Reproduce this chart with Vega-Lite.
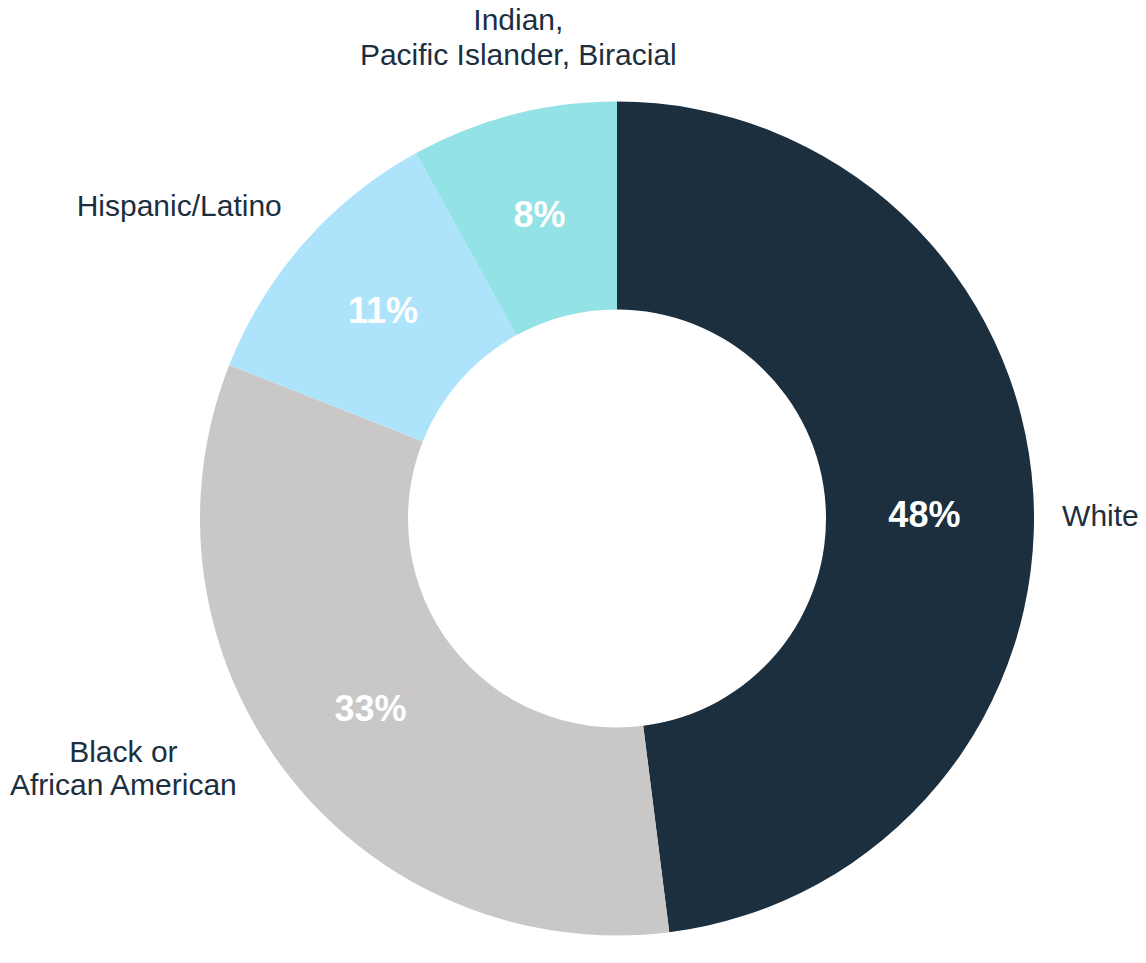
{
  "$schema": "https://vega.github.io/schema/vega-lite/v6.json",
  "description": "Donut chart of enrolment by race / ethnicity.",
  "autosize": "none",
  "padding": {"left": 88, "top": 74, "right": 0, "bottom": 0},
  "width": 1058,
  "height": 889,
  "data": {
    "values": [
      {"group": "White", "label": "White", "share": 48, "pct": "48%", "rank": 1},
      {"group": "Black", "label": "Black or\nAfrican American", "share": 33, "pct": "33%", "rank": 2},
      {"group": "Hispanic", "label": "Hispanic/Latino", "share": 11, "pct": "11%", "rank": 3},
      {"group": "Other", "label": "Indian,\nPacific Islander, Biracial", "share": 8, "pct": "8%", "rank": 4}
    ]
  },
  "transform": [
    {"stack": "share", "groupby": [], "sort": [{"field": "rank", "order": "ascending"}], "as": ["start", "end"]},
    {"calculate": "(datum.start + datum.end) / 2", "as": "mid"}
  ],
  "encoding": {
    "theta": {"field": "mid", "type": "quantitative", "scale": {"domain": [0, 100]}}
  },
  "layer": [
    {
      "mark": {"type": "arc", "outerRadius": 417, "innerRadius": 209},
      "encoding": {
        "theta": {"field": "start", "type": "quantitative", "scale": {"domain": [0, 100]}},
        "theta2": {"field": "end"},
        "color": {
          "field": "group",
          "type": "nominal",
          "scale": {
            "domain": ["White", "Black", "Hispanic", "Other"],
            "range": ["#1c2f3f", "#c9c8c7", "#ade4fc", "#93e2e5"]
          },
          "legend": null
        }
      }
    },
    {
      "transform": [{"filter": "datum.group != 'White'"}],
      "mark": {"type": "text", "radius": 312, "font": "Liberation Sans", "fontSize": 36, "fontWeight": "bold", "color": "white", "baseline": "middle"},
      "encoding": {"text": {"field": "pct"}}
    },
    {
      "transform": [{"filter": "datum.group == 'White'"}],
      "mark": {"type": "text", "radius": 308, "dy": 17, "font": "Liberation Sans", "fontSize": 36, "fontWeight": "bold", "color": "white", "baseline": "middle"},
      "encoding": {"text": {"field": "pct"}}
    },
    {
      "transform": [{"filter": "datum.group == 'White'"}],
      "mark": {"type": "text", "radius": 445, "align": "left", "dx": 1, "dy": 26, "font": "Liberation Sans", "fontSize": 30, "color": "#1c2f3f", "baseline": "middle"},
      "encoding": {"text": {"field": "label"}}
    },
    {
      "transform": [{"filter": "datum.group == 'Black'"}],
      "mark": {"type": "text", "radius": 445, "align": "center", "dx": -142, "dy": -38, "lineBreak": "\n", "lineHeight": 33, "font": "Liberation Sans", "fontSize": 30, "color": "#1c2f3f", "baseline": "middle"},
      "encoding": {"text": {"field": "label"}}
    },
    {
      "transform": [{"filter": "datum.group == 'Hispanic'"}],
      "mark": {"type": "text", "radius": 445, "align": "center", "dx": -104, "dy": -17, "font": "Liberation Sans", "fontSize": 30, "color": "#1c2f3f", "baseline": "middle"},
      "encoding": {"text": {"field": "label"}}
    },
    {
      "transform": [{"filter": "datum.group == 'Other'"}],
      "mark": {"type": "text", "radius": 445, "align": "center", "dx": 12, "dy": -66, "lineBreak": "\n", "lineHeight": 35, "font": "Liberation Sans", "fontSize": 30, "color": "#1c2f3f", "baseline": "middle"},
      "encoding": {"text": {"field": "label"}}
    }
  ],
  "config": {"view": {"stroke": null}}
}
